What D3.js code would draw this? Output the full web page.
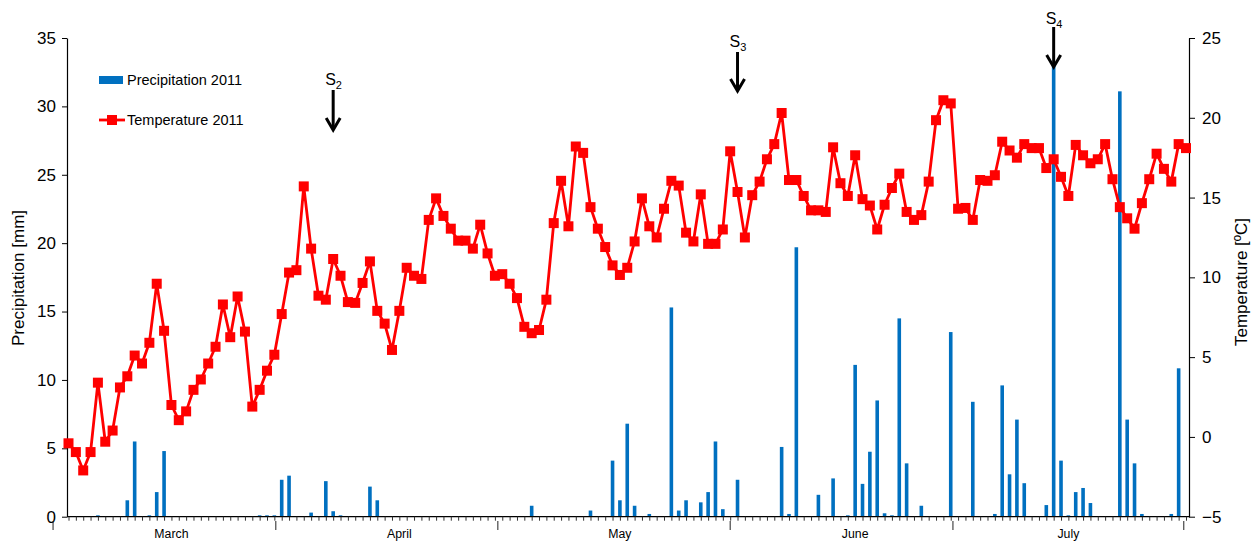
<!DOCTYPE html>
<html>
<head>
<meta charset="utf-8">
<script src="https://cdn.jsdelivr.net/npm/d3@7"></script>
<style>
  html, body { margin: 0; padding: 0; background: #fff; }
  svg { display: block; font-family: "Liberation Sans", Arial, sans-serif; }
</style>
</head>
<body>
<svg id="chart" width="1259" height="543"></svg>
<script>
// Daily mean air temperature (°C), one value per day
const temperature = [
  -0.4, -0.95, -2.1, -0.95, 3.4, -0.3, 0.4, 3.1, 3.8, 5.1,
  4.6, 5.9, 9.6, 6.65, 2.0, 1.05, 1.6, 2.95, 3.6, 4.6,
  5.65, 8.3, 6.25, 8.8, 6.6, 1.9, 2.95, 4.15, 5.15, 7.7,
  10.3, 10.45, 15.7, 11.8, 8.85, 8.6, 11.15, 10.1, 8.45, 8.4,
  9.65, 11.0, 7.9, 7.1, 5.45, 7.9, 10.6, 10.1, 9.9, 13.6,
  14.95, 13.85, 13.05, 12.3, 12.3, 11.8, 13.3, 11.5, 10.1, 10.2,
  9.6, 8.7, 6.9, 6.5, 6.7, 8.6, 13.4, 16.05, 13.2, 18.2,
  17.8, 14.4, 13.05, 11.9, 10.75, 10.15, 10.6, 12.25, 14.95, 13.2,
  12.5, 14.3, 16.05, 15.75, 12.8, 12.25, 15.2, 12.1, 12.1, 13.0,
  17.9, 15.35, 12.5, 15.15, 16.0, 17.4, 18.35, 20.3, 16.1, 16.1,
  15.1, 14.2, 14.2, 14.1, 18.15, 15.9, 15.1, 17.65, 14.9, 14.5,
  13.0, 14.55, 15.6, 16.5, 14.1, 13.6, 13.9, 16.0, 19.85, 21.1,
  20.9, 14.3, 14.35, 13.6, 16.1, 16.05, 16.4, 18.5, 17.95, 17.5,
  18.35, 18.1, 18.1, 16.85, 17.4, 16.3, 15.1, 18.3, 17.65, 17.15,
  17.4, 18.35, 16.15, 14.4, 13.7, 13.05, 14.65, 16.15, 17.75, 16.8,
  16.0, 18.35, 18.1
];

// Daily precipitation (mm), same days
const precipitation = [
  0, 0, 0, 0, 0.1, 0, 0, 0, 1.2, 5.5,
  0, 0.1, 1.8, 4.8, 0, 0, 0, 0, 0, 0,
  0, 0, 0, 0, 0, 0, 0.1, 0.1, 0.1, 2.7,
  3.0, 0, 0, 0.3, 0, 2.6, 0.4, 0.1, 0, 0,
  0, 2.2, 1.2, 0, 0, 0, 0, 0, 0, 0,
  0, 0, 0, 0, 0, 0, 0, 0, 0, 0,
  0, 0, 0, 0.8, 0, 0, 0, 0, 0, 0,
  0, 0.45, 0, 0, 4.1, 1.2, 6.8, 0.8, 0, 0.2,
  0, 0, 15.3, 0.45, 1.2, 0, 1.05, 1.8, 5.5, 0.55,
  0, 2.7, 0, 0, 0, 0, 0, 5.1, 0.2, 19.7,
  0, 0, 1.6, 0, 2.8, 0, 0.1, 11.1, 2.4, 4.75,
  8.5, 0.25, 0.1, 14.5, 3.9, 0, 0.8, 0, 0, 0,
  13.5, 0, 0, 8.4, 0, 0, 0.2, 9.6, 3.1, 7.1,
  2.45, 0, 0, 0.85, 33.1, 4.1, 0.1, 1.8, 2.1, 1.0,
  0, 0, 0, 31.1, 7.1, 3.9, 0.2, 0, 0, 0,
  0.2, 10.85, 0
];

// Category axis labels (day index of the label centre)
const monthNames = ["March", "April", "May", "June", "July"];
const monthCentres = [14, 45, 75, 107, 136];
const groupSeparators = [-2.1, 28.2, 58.4, 90, 120.3, 151.7];

// Axis ticks
const precipTicks = [0, 5, 10, 15, 20, 25, 30, 35];
const tempTicks = [-5, 0, 5, 10, 15, 20, 25];

// Sampling dates marked with arrows
const samplingDays = [36, 91, 134];
const samplingNumbers = ["2", "3", "4"];

// Series names
const seriesNames = ["Precipitation 2011", "Temperature 2011"];

const BLUE = "#0070C0";
const RED = "#FF0000";

const svg = d3.select("#chart");

const plotTop = 38, plotBottom = 516.7, plotLeft = 67, plotRight = 1189;

const x = d3.scaleLinear().domain([0, temperature.length - 1]).range([68.5, 1186]);
const yP = d3.scaleLinear().domain([0, 35]).range([plotBottom, plotTop]);
const yT = d3.scaleLinear().domain([-5, 25]).range([plotBottom, plotTop]);

// precipitation bars
svg.append("g")
  .selectAll("rect")
  .data(precipitation.map((v, i) => ({ v, i })).filter(d => d.v > 0))
  .join("rect")
  .attr("x", d => x(d.i) - 1.8)
  .attr("width", 3.6)
  .attr("y", d => Math.min(yP(d.v), plotBottom - 1))
  .attr("height", d => Math.max(plotBottom - yP(d.v), 1))
  .attr("fill", BLUE);

// left axis (precipitation)
const axL = svg.append("g")
  .attr("transform", `translate(${plotLeft},0)`)
  .call(d3.axisLeft(yP).tickValues(precipTicks).tickSize(5).tickSizeOuter(0).tickPadding(6));
axL.select(".domain").attr("stroke", "#000").attr("stroke-width", 1.2);
axL.selectAll(".tick line").attr("stroke", "#000");
axL.selectAll("text").attr("font-size", 17).attr("fill", "#000")
  .attr("font-family", "Liberation Sans, Arial, sans-serif");

// right axis (temperature)
const axR = svg.append("g")
  .attr("transform", `translate(${plotRight},0)`)
  .call(d3.axisRight(yT).tickValues(tempTicks).tickSize(6).tickSizeOuter(0).tickPadding(7));
axR.select(".domain").attr("stroke", "#000").attr("stroke-width", 1.2);
axR.selectAll(".tick line").attr("stroke", "#000");
axR.selectAll("text").attr("font-size", 17).attr("fill", "#000")
  .attr("font-family", "Liberation Sans, Arial, sans-serif");

// bottom axis: one tick per day
const axB = svg.append("g")
  .attr("transform", `translate(0,${plotBottom})`)
  .call(d3.axisBottom(x).tickValues(d3.range(temperature.length)).tickFormat("").tickSize(4).tickSizeOuter(0));
axB.select(".domain").attr("d", `M${plotLeft},0H${plotRight}`).attr("stroke", "#000").attr("stroke-width", 1.2);
axB.selectAll(".tick line").attr("stroke", "#333");

// group separators below the axis
svg.append("g")
  .selectAll("line")
  .data(groupSeparators)
  .join("line")
  .attr("x1", d => x(d)).attr("x2", d => x(d))
  .attr("y1", 521).attr("y2", 530)
  .attr("stroke", "#222").attr("stroke-width", 1);

// month names
svg.append("g")
  .selectAll("text")
  .data(monthNames)
  .join("text")
  .attr("x", (d, i) => x(monthCentres[i]))
  .attr("y", 538)
  .attr("text-anchor", "middle")
  .attr("font-size", 12.3)
  .attr("fill", "#000")
  .text(d => d);

// temperature line
svg.append("path")
  .datum(temperature)
  .attr("fill", "none")
  .attr("stroke", RED)
  .attr("stroke-width", 2.8)
  .attr("stroke-linejoin", "round")
  .attr("d", d3.line().x((d, i) => x(i)).y(d => yT(d)));

svg.append("g")
  .selectAll("rect")
  .data(temperature)
  .join("rect")
  .attr("x", (d, i) => x(i) - 5)
  .attr("y", d => yT(d) - 5)
  .attr("width", 10)
  .attr("height", 10)
  .attr("fill", RED);

// axis titles
svg.append("text")
  .attr("transform", "translate(24,278) rotate(-90)")
  .attr("text-anchor", "middle")
  .attr("font-size", 17)
  .text("Precipitation [mm]");

svg.append("text")
  .attr("transform", "translate(1247,282) rotate(-90)")
  .attr("text-anchor", "middle")
  .attr("font-size", 17)
  .text("Temperature [ºC]");

// legend
const legend = svg.append("g");
legend.append("rect").attr("x", 99).attr("y", 76).attr("width", 24).attr("height", 8).attr("fill", BLUE);
legend.append("text").attr("x", 127).attr("y", 85).attr("font-size", 14.5).text(seriesNames[0]);
legend.append("line").attr("x1", 99).attr("x2", 125).attr("y1", 120).attr("y2", 120)
  .attr("stroke", RED).attr("stroke-width", 2.8);
legend.append("rect").attr("x", 107).attr("y", 115).attr("width", 10).attr("height", 10).attr("fill", RED);
legend.append("text").attr("x", 127).attr("y", 125).attr("font-size", 14.5).text(seriesNames[1]);

// sampling arrows (label baseline, arrow start, arrow tip)
const arrowLayout = [
  { textY: 85, y1: 90, y2: 130 },
  { textY: 47, y1: 52, y2: 91 },
  { textY: 24, y1: 27, y2: 67 }
];
const arrows = svg.append("g");
samplingDays.forEach((day, k) => {
  const cx = x(day);
  const L = arrowLayout[k];
  const t = arrows.append("text")
    .attr("x", cx - 8)
    .attr("y", L.textY)
    .attr("font-size", 16)
    .attr("fill", "#000");
  t.append("tspan").text("S");
  t.append("tspan").attr("dy", 4).attr("font-size", 11).text(samplingNumbers[k]);
  arrows.append("line")
    .attr("x1", cx).attr("x2", cx)
    .attr("y1", L.y1).attr("y2", L.y2 - 2)
    .attr("stroke", "#000").attr("stroke-width", 3);
  arrows.append("path")
    .attr("d", `M${cx - 7},${L.y2 - 12}L${cx},${L.y2}L${cx + 7},${L.y2 - 12}`)
    .attr("fill", "none")
    .attr("stroke", "#000")
    .attr("stroke-width", 3)
    .attr("stroke-linejoin", "miter");
});
</script>
</body>
</html>
